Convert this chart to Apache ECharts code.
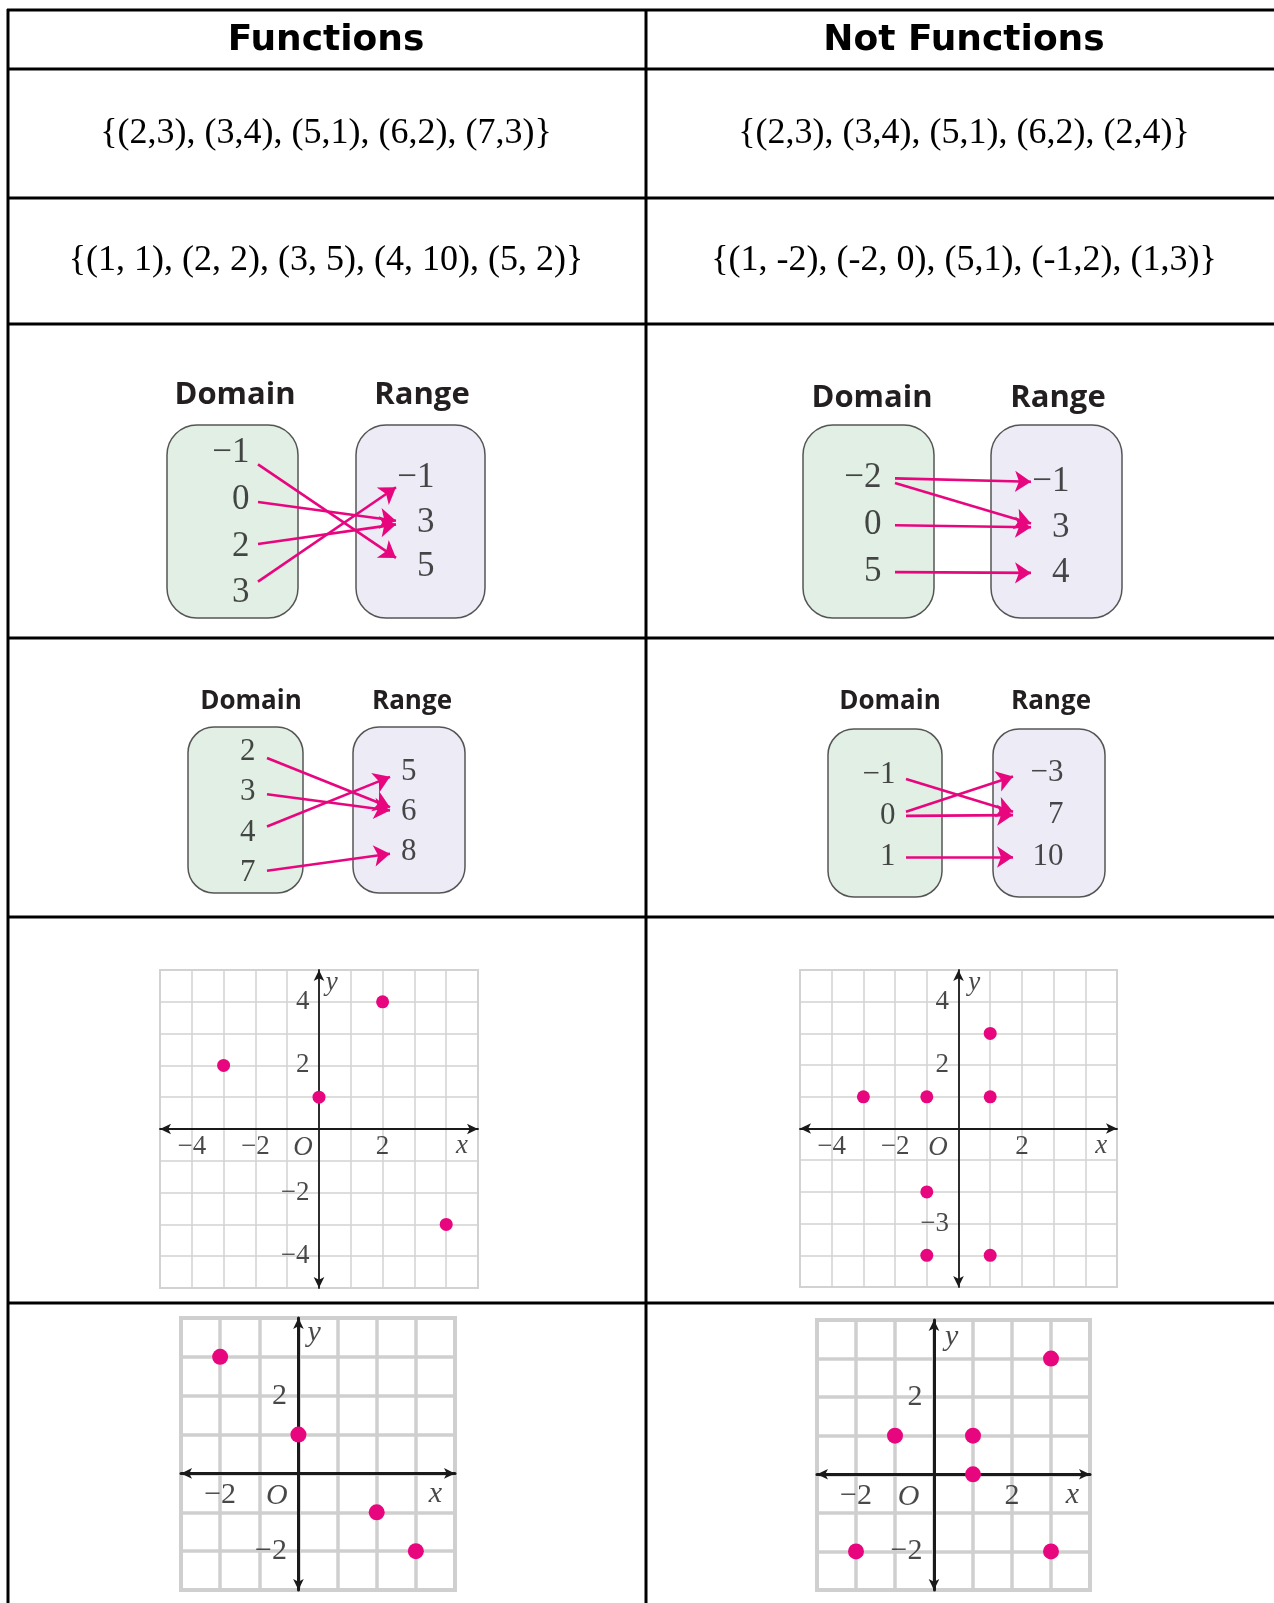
<!DOCTYPE html>
<html>
<head>
<meta charset="utf-8">
<script src="https://cdn.jsdelivr.net/npm/echarts@6/dist/echarts.min.js"></script>
<style>
  html, body { margin: 0; padding: 0; background: #fff; }
  #main { width: 1274px; height: 1603px; }
</style>
</head>
<body>
<div id="main"></div>
<script>
// column headers and the set notation rows
var headers = ['Functions', 'Not Functions'];
var setsFunctions = ['{(2,3), (3,4), (5,1), (6,2), (7,3)}', '{(1, 1), (2, 2), (3, 5), (4, 10), (5, 2)}'];
var setsNotFunctions = ['{(2,3), (3,4), (5,1), (6,2), (2,4)}', '{(1, -2), (-2, 0), (5,1), (-1,2), (1,3)}'];

// mapping diagrams: domain, range, arrows [from, to]
var mapA_domain = [-1, 0, 2, 3];
var mapA_range = [-1, 3, 5];
var mapA_pairs = [[-1, 5], [0, 3], [2, 3], [3, -1]];

var mapB_domain = [-2, 0, 5];
var mapB_range = [-1, 3, 4];
var mapB_pairs = [[-2, -1], [-2, 3], [0, 3], [5, 4]];

var mapC_domain = [2, 3, 4, 7];
var mapC_range = [5, 6, 8];
var mapC_pairs = [[2, 6], [3, 6], [4, 5], [7, 8]];

var mapD_domain = [-1, 0, 1];
var mapD_range = [-3, 7, 10];
var mapD_pairs = [[-1, 7], [0, -3], [0, 7], [1, 10]];

// coordinate plots
var plotA_points = [[-3, 2], [0, 1], [2, 4], [4, -3]];
var plotA_xTicks = [-4, -2, 2];
var plotA_yTicks = [4, 2, -2, -4];

var plotB_points = [[-3, 1], [-1, 1], [1, 3], [1, 1], [-1, -2], [-1, -4], [1, -4]];
var plotB_xTicks = [-4, -2, 2];
var plotB_yTicks = [4, 2, -3];

var plotC_points = [[-2, 3], [0, 1], [2, -1], [3, -2]];
var plotC_xTicks = [-2];
var plotC_yTicks = [2, -2];

var plotD_points = [[-2, -2], [-1, 1], [1, 1], [1, 0], [3, 3], [3, -2]];
var plotD_xTicks = [-2, 2];
var plotD_yTicks = [2, -2];

var PINK = '#e8067f';
var SERIF = '"Liberation Serif", "Times New Roman", serif';
var SANS_B = '"Open Sans", "DejaVu Sans", sans-serif';

function fmt(v) {
  return v < 0 ? '\u2212' + Math.abs(v) : String(v);
}

var myChart = echarts.init(document.getElementById('main'));

var grids = [];
var xAxes = [];
var yAxes = [];
var series = [];
var graphics = [];

// ---- table lines ----
var colX = [8, 646];
var rowY = [10, 69, 198, 324, 638, 917, 1303];
rowY.forEach(function (y) {
  graphics.push({ type: 'line', shape: { x1: 7, y1: y, x2: 1274, y2: y }, style: { stroke: '#000', lineWidth: 3 } });
});
colX.forEach(function (x) {
  graphics.push({ type: 'line', shape: { x1: x, y1: 9, x2: x, y2: 1603 }, style: { stroke: '#000', lineWidth: 3 } });
});

var colCenter = [326, 964];
headers.forEach(function (h, i) {
  graphics.push({
    type: 'text',
    style: {
      text: h, x: colCenter[i], y: 41, align: 'center', verticalAlign: 'middle',
      fontFamily: '"DejaVu Sans", sans-serif', fontWeight: 'bold', fontSize: 36, fill: '#000'
    }
  });
});
[setsFunctions, setsNotFunctions].forEach(function (rows, c) {
  rows.forEach(function (t, r) {
    graphics.push({
      type: 'text',
      style: {
        text: t, x: colCenter[c], y: r === 0 ? 134 : 261, align: 'center', verticalAlign: 'middle',
        fontFamily: SERIF, fontSize: 36, fill: '#000'
      }
    });
  });
});

// ---- mapping diagrams: one hidden pixel grid for all of them ----
grids.push({ left: 0, top: 0, width: 1274, height: 1603, show: false, outerBoundsMode: 'none' });
xAxes.push({ gridIndex: 0, type: 'value', min: 0, max: 1274, show: false });
yAxes.push({ gridIndex: 0, type: 'value', min: 0, max: 1603, inverse: true, show: false });

var maps = [
  { domain: mapA_domain, range: mapA_range, pairs: mapA_pairs,
    dBox: [167, 425, 131, 193], rBox: [356, 425, 129, 193], radius: 30,
    titleY: 395, dTitleX: 235, rTitleX: 422, titleSize: 31,
    dX: 250, dY: 453, dStep: 46.7, rX: 435, rY: 478, rStep: 44.5, numSize: 35,
    startX: 258, endX: 396 },
  { domain: mapB_domain, range: mapB_range, pairs: mapB_pairs,
    dBox: [803, 425, 131, 193], rBox: [991, 425, 131, 193], radius: 30,
    titleY: 398, dTitleX: 872, rTitleX: 1058, titleSize: 31,
    dX: 882, dY: 478, dStep: 47, rX: 1070, rY: 482, rStep: 45.5, numSize: 35,
    startX: 895, endX: 1031 },
  { domain: mapC_domain, range: mapC_range, pairs: mapC_pairs,
    dBox: [188, 727, 115, 166], rBox: [353, 727, 112, 166], radius: 26,
    titleY: 702, dTitleX: 251, rTitleX: 412, titleSize: 26,
    dX: 256, dY: 752, dStep: 40.3, rX: 417, rY: 772, rStep: 40, numSize: 31,
    startX: 267, endX: 390 },
  { domain: mapD_domain, range: mapD_range, pairs: mapD_pairs,
    dBox: [828, 729, 114, 168], rBox: [993, 729, 112, 168], radius: 26,
    titleY: 702, dTitleX: 890, rTitleX: 1051, titleSize: 26,
    dX: 896, dY: 775, dStep: 41, rX: 1064, rY: 773, rStep: 42, numSize: 31,
    startX: 906, endX: 1013 }
];

maps.forEach(function (m) {
  graphics.push({
    type: 'rect', z: -1,
    shape: { x: m.dBox[0], y: m.dBox[1], width: m.dBox[2], height: m.dBox[3], r: m.radius },
    style: { fill: '#e2efe4', stroke: '#555', lineWidth: 1.5 }
  });
  graphics.push({
    type: 'rect', z: -1,
    shape: { x: m.rBox[0], y: m.rBox[1], width: m.rBox[2], height: m.rBox[3], r: m.radius },
    style: { fill: '#edecf6', stroke: '#555', lineWidth: 1.5 }
  });
  [['Domain', m.dTitleX], ['Range', m.rTitleX]].forEach(function (t) {
    graphics.push({
      type: 'text',
      style: {
        text: t[0], x: t[1], y: m.titleY, align: 'center', verticalAlign: 'middle',
        fontFamily: SANS_B, fontWeight: 'bold', fontSize: m.titleSize, fill: '#231f20'
      }
    });
  });

  var dPos = {}, rPos = {};
  var valueData = [];
  m.domain.forEach(function (v, i) {
    dPos[v] = m.dY + i * m.dStep;
    valueData.push([m.dX, dPos[v], fmt(v)]);
  });
  m.range.forEach(function (v, i) {
    rPos[v] = m.rY + i * m.rStep;
    valueData.push([m.rX, rPos[v], fmt(v)]);
  });

  series.push({
    type: 'scatter', xAxisIndex: 0, yAxisIndex: 0, z: 5,
    symbolSize: 1, itemStyle: { color: 'rgba(0,0,0,0)' },
    silent: true,
    data: valueData,
    label: {
      show: true, position: 'left', distance: 0,
      formatter: function (p) { return p.data[2]; },
      fontFamily: SERIF, fontSize: m.numSize, color: '#1a1a1a'
    }
  });

  series.push({
    type: 'lines', coordinateSystem: 'cartesian2d', xAxisIndex: 0, yAxisIndex: 0, z: 6,
    silent: true,
    symbol: ['none', 'arrow'], symbolSize: 16,
    lineStyle: { color: PINK, width: 2.6, opacity: 1 },
    data: m.pairs.map(function (p) {
      var y1 = dPos[p[0]], y2 = rPos[p[1]];
      var d = y2 - y1;
      return { coords: [[m.startX, y1 + 0.1 * d], [m.endX, y2 - 0.08 * d]] };
    })
  });
});

// ---- coordinate plots ----
var plots = [
  { points: plotA_points, xTicks: plotA_xTicks, yTicks: plotA_yTicks,
    box: [160, 970, 318, 318], min: -5, max: 5, gridW: 1.5, gridC: '#d2d2d2', axisW: 1.8,
    dot: 13, font: 27, xDist: 4, yDist: 9,
    notes: [[-0.5, 0, 'O', 19], [4.5, 0, 'x', 17], [0.4, 4.6, 'y', 0]] },
  { points: plotB_points, xTicks: plotB_xTicks, yTicks: plotB_yTicks,
    box: [800, 970, 317, 317], min: -5, max: 5, gridW: 1.5, gridC: '#d2d2d2', axisW: 1.8,
    dot: 13, font: 27, xDist: 4, yDist: 9,
    notes: [[-0.65, 0, 'O', 19], [4.5, 0, 'x', 17], [0.5, 4.6, 'y', 0]] },
  { points: plotC_points, xTicks: plotC_xTicks, yTicks: plotC_yTicks,
    box: [181, 1318, 274, 272], min: -3, max: 4, gridW: 3.5, gridC: '#cfcfcf', axisW: 3,
    dot: 16, font: 30, xDist: 6, yDist: 11,
    notes: [[-0.55, 0, 'O', 23], [3.5, 0, 'x', 21], [0.4, 3.6, 'y', 0]] },
  { points: plotD_points, xTicks: plotD_xTicks, yTicks: plotD_yTicks,
    box: [817, 1320, 273, 270], min: -3, max: 4, gridW: 3.5, gridC: '#cfcfcf', axisW: 3,
    dot: 16, font: 30, xDist: 6, yDist: 11,
    notes: [[-0.65, 0, 'O', 23], [3.55, 0, 'x', 21], [0.45, 3.55, 'y', 0]] }
];

plots.forEach(function (p) {
  var gi = grids.length;
  grids.push({
    left: p.box[0], top: p.box[1], width: p.box[2], height: p.box[3],
    outerBoundsMode: 'none',
    show: true, backgroundColor: '#fff', borderColor: p.gridC, borderWidth: p.gridW + 0.5
  });
  function axis() {
    return {
      gridIndex: gi, type: 'value', min: p.min, max: p.max, interval: 1,
      axisLine: {
        show: true, onZero: true, symbol: ['arrow', 'arrow'], symbolSize: [8, 11],
        lineStyle: { color: '#1a1a1a', width: p.axisW }
      },
      axisTick: { show: false },
      axisLabel: { show: false },
      splitLine: { show: true, lineStyle: { color: p.gridC, width: p.gridW } }
    };
  }
  xAxes.push(axis());
  yAxes.push(axis());

  series.push({
    type: 'scatter', xAxisIndex: gi, yAxisIndex: gi, z: 5,
    symbol: 'circle', symbolSize: p.dot,
    itemStyle: { color: PINK, opacity: 1 },
    data: p.points
  });

  // tick numbers sit along the axes through zero
  var tickData = [];
  p.xTicks.forEach(function (t) {
    tickData.push({ value: [t, 0], name: fmt(t), label: { position: 'bottom', distance: p.xDist } });
  });
  p.yTicks.forEach(function (t) {
    tickData.push({ value: [0, t], name: fmt(t), label: { position: 'left', distance: p.yDist } });
  });
  series.push({
    type: 'scatter', xAxisIndex: gi, yAxisIndex: gi, z: 4, silent: true,
    symbolSize: 1, itemStyle: { color: 'rgba(0,0,0,0)' },
    data: tickData,
    label: {
      show: true,
      formatter: function (q) { return q.name; },
      fontFamily: SERIF, fontSize: p.font, color: '#1a1a1a'
    }
  });

  series.push({
    type: 'scatter', xAxisIndex: gi, yAxisIndex: gi, z: 4, silent: true,
    symbolSize: 1, itemStyle: { color: 'rgba(0,0,0,0)' },
    data: p.notes.map(function (n) { return { value: [n[0], n[1]], name: n[2] }; }),
    label: {
      show: true, position: 'inside',
      formatter: function (q) { return q.name; },
      fontFamily: SERIF, fontStyle: 'italic', fontSize: p.font, color: '#1a1a1a'
    },
    labelLayout: function (params) {
      return { dy: p.notes[params.dataIndex][3] };
    }
  });
});

var option = {
  backgroundColor: '#fff',
  animation: false,
  grid: grids,
  xAxis: xAxes,
  yAxis: yAxes,
  series: series,
  graphic: { elements: graphics }
};

myChart.setOption(option);
</script>
</body>
</html>
